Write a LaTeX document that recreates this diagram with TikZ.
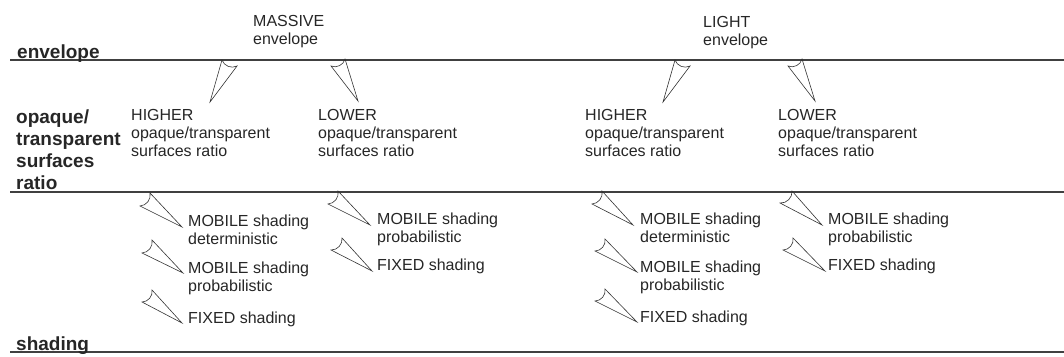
\documentclass[tikz,border=0pt]{standalone}
\usepackage{fontspec}
\setmainfont{Liberation Sans}
\usetikzlibrary{positioning}
\tikzset{
	lbl/.style={inner sep=0, anchor=base west, align=left, text=black!85, font=\fontsize{16}{18}\selectfont},
	head/.style={inner sep=0, anchor=base west, align=left, text=black!85, font=\fontsize{19}{22}\selectfont\bfseries},
	level/.style={draw=black!75, line width=1.3pt},
	tail/.style={draw=black!80, line width=0.6pt}
}
\begin{document}
\begin{tikzpicture}[x=1pt, y=1pt]
		\useasboundingbox (0,0) rectangle (1064,356);
		% levels
		\draw[level] (10,296) -- (1064,296);
		\draw[level] (10,164) -- (1064,164);
		\draw[level] (10,4) -- (1064,4);
		
		\node[head] (envelope) at (17,297) {envelope};
		\node[head] (ratio) at (16,166) {opaque/\\transparent\\surfaces\\ratio};
		\node[head] (shading) at (16,6) {shading};
		
		% envelope
		\node[lbl] (massive) at (253,311) {MASSIVE\\envelope};
		\node[lbl] (light) at (703,310) {LIGHT\\envelope};
		
		% ratio
		\node[lbl] (mhigher) at (131,199) {HIGHER\\opaque/transparent\\surfaces ratio};
		\node[lbl] (mlower) at (318,199) {LOWER\\opaque/transparent\\surfaces ratio};
		\node[lbl] (lhigher) at (585,199) {HIGHER\\opaque/transparent\\surfaces ratio};
		\node[lbl] (llower) at (778,199) {LOWER\\opaque/transparent\\surfaces ratio};
		
		% shading
		\node[lbl] (mhdet) at (188,111) {MOBILE shading\\deterministic};
		\node[lbl] (mhprob) at (188,65) {MOBILE shading\\probabilistic};
		\node[lbl] (mhfix) at (188,33) {FIXED shading};
		\node[lbl] (mlprob) at (377,113) {MOBILE shading\\probabilistic};
		\node[lbl] (mlfix) at (377,85) {FIXED shading};
		\node[lbl] (lhdet) at (640,113) {MOBILE shading\\deterministic};
		\node[lbl] (lhprob) at (640,66) {MOBILE shading\\probabilistic};
		\node[lbl] (lhfix) at (640,34) {FIXED shading};
		\node[lbl] (llprob) at (828,113) {MOBILE shading\\probabilistic};
		\node[lbl] (llfix) at (828,85) {FIXED shading};
		
		% pointers
		\draw[tail] ([shift={(79,55)}]mhigher.base west) -- ++(12,42) to[bend right=50] ++(15,-6) -- cycle;
		\draw[tail] ([shift={(40,56)}]mlower.base west) -- ++(-27,35) to[bend right=50] ++(14,7) -- cycle;
		\draw[tail] ([shift={(78,55)}]lhigher.base west) -- ++(12,42) to[bend right=50] ++(15,-6) -- cycle;
		\draw[tail] ([shift={(37,56)}]llower.base west) -- ++(-27,35) to[bend right=50] ++(14,7) -- cycle;
		
		\draw[tail] ([shift={(-6,18)}]mhdet.base west) -- ++(-32,34) to[bend left=50] ++(-10,-13) -- cycle;
		\draw[tail] ([shift={(-5,18)}]mhprob.base west) -- ++(-31,33) to[bend left=50] ++(-10,-13) -- cycle;
		\draw[tail] ([xshift=-6pt]mhfix.base west) -- ++(-30,33) to[bend left=50] ++(-10,-12) -- cycle;
		\draw[tail] ([shift={(-7,18)}]mlprob.base west) -- ++(-32,34) to[bend left=50] ++(-10,-13) -- cycle;
		\draw[tail] ([xshift=-5pt]mlfix.base west) -- ++(-30,33) to[bend left=50] ++(-11,-12) -- cycle;
		\draw[tail] ([shift={(-7,18)}]lhdet.base west) -- ++(-31,34) to[bend left=50] ++(-10,-13) -- cycle;
		\draw[tail] ([shift={(-3,18)}]lhprob.base west) -- ++(-32,33) to[bend left=50] ++(-10,-12) -- cycle;
		\draw[tail] ([xshift=-3pt]lhfix.base west) -- ++(-32,33) to[bend left=50] ++(-10,-12) -- cycle;
		\draw[tail] ([shift={(-6,18)}]llprob.base west) -- ++(-30,34) to[bend left=50] ++(-12,-12) -- cycle;
		\draw[tail] ([xshift=-3pt]llfix.base west) -- ++(-32,33) to[bend left=50] ++(-10,-12) -- cycle;
\end{tikzpicture}
\end{document}
